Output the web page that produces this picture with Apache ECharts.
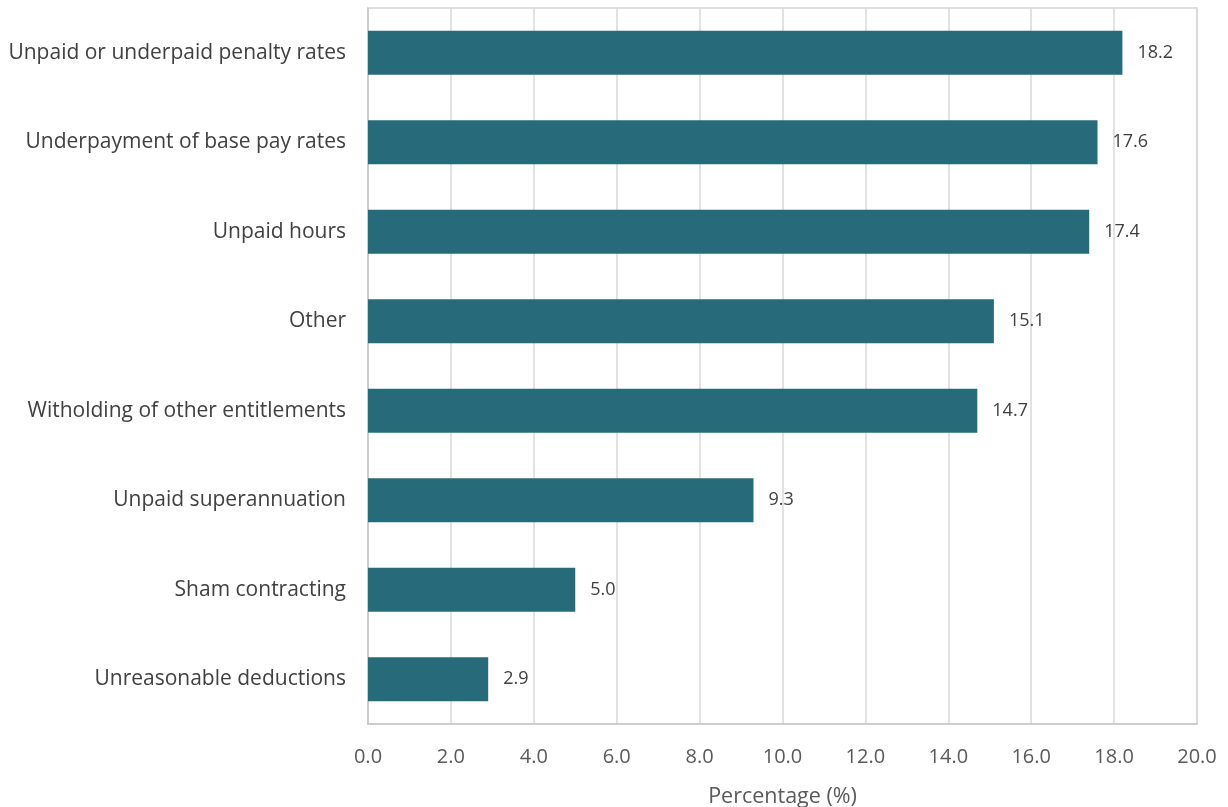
<!DOCTYPE html>
<html>
<head>
<meta charset="utf-8">
<script src="https://cdn.jsdelivr.net/npm/echarts@6/dist/echarts.min.js"></script>
<style>
  html, body { margin: 0; padding: 0; background: #fff; }
  #chart { width: 1228px; height: 807px; }
</style>
</head>
<body>
<div id="chart"></div>
<script>
// Issue categories, bottom to top as drawn on the category axis
const categories = [
  'Unreasonable deductions',
  'Sham contracting',
  'Unpaid superannuation',
  'Witholding of other entitlements',
  'Other',
  'Unpaid hours',
  'Underpayment of base pay rates',
  'Unpaid or underpaid penalty rates'
];
// Share of matters (%)
const percentages = [2.9, 5.0, 9.3, 14.7, 15.1, 17.4, 17.6, 18.2];
const axisTitle = 'Percentage (%)';

const FONT = '"Open Sans", "Noto Sans", sans-serif';
const chart = echarts.init(document.getElementById('chart'), null, { renderer: 'canvas' });

chart.setOption({
  animation: false,
  backgroundColor: '#ffffff',
  grid: {
    left: 368, right: 31, top: 8, bottom: 83,
    outerBoundsMode: 'none',
    containLabel: false,
    show: true, borderColor: '#d4d4d4', borderWidth: 1.5
  },
  xAxis: {
    type: 'value',
    min: 0, max: 20, interval: 2,
    name: axisTitle,
    nameLocation: 'middle',
    nameGap: 62,
    nameTextStyle: { fontFamily: FONT, fontSize: 21.5, color: '#595959' },
    axisLine: { show: true, lineStyle: { color: '#c8c8c8', width: 1.5 } },
    axisTick: { show: false },
    axisLabel: {
      margin: 23,
      fontFamily: FONT, fontSize: 20, color: '#595959',
      formatter: v => v.toFixed(1)
    },
    splitLine: { show: true, lineStyle: { color: '#d9d9d9', width: 1.5 } }
  },
  yAxis: {
    type: 'category',
    data: categories,
    axisLine: { show: true, lineStyle: { color: '#c8c8c8', width: 1.5 } },
    axisTick: { show: false },
    axisLabel: {
      margin: 22,
      fontFamily: FONT, fontSize: 21, color: '#404040'
    }
  },
  series: [{
    type: 'bar',
    data: percentages,
    barWidth: 44,
    itemStyle: { color: '#276B7A' },
    label: {
      show: true,
      position: 'right',
      distance: 15,
      fontFamily: FONT, fontSize: 18, color: '#404040',
      formatter: p => p.value.toFixed(1)
    }
  }]
});
</script>
</body>
</html>
